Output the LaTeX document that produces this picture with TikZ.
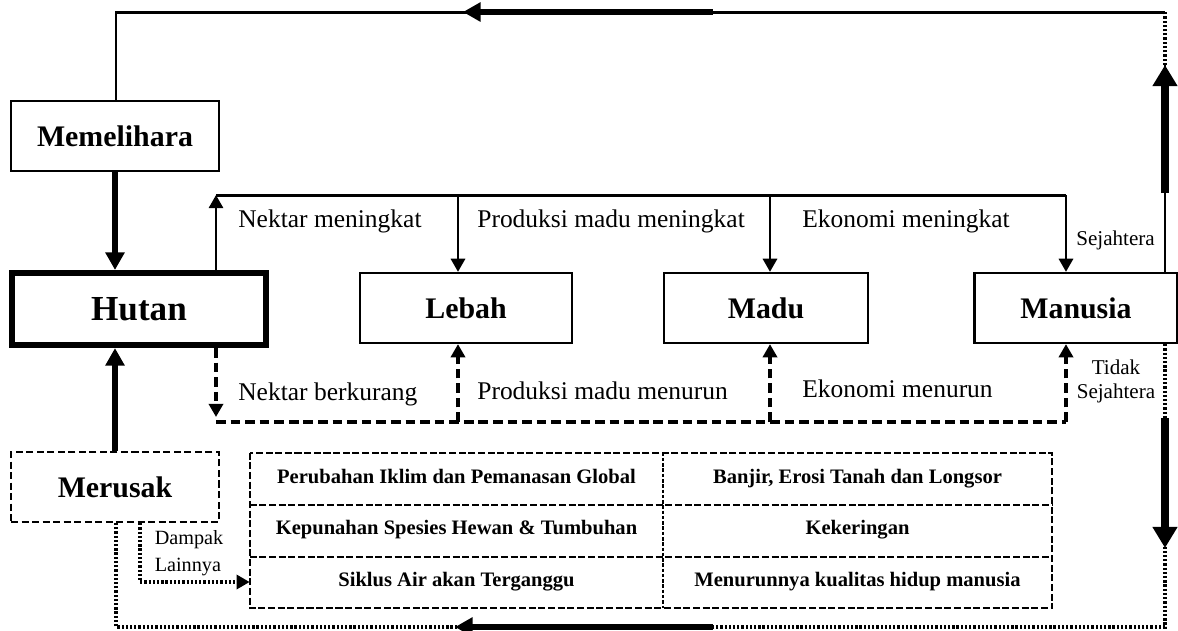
\documentclass[tikz,border=0pt]{standalone}
\usepackage{fontspec}
\setmainfont{Liberation Serif}
\usepackage{tikz}
\usetikzlibrary{arrows.meta, calc}
\tikzset{
  box/.style={draw, line width=1.3pt, minimum height=1.4cm, inner sep=0pt,
    font=\fontsize{17}{20}\selectfont\bfseries},
  cell/.style={minimum height=1.034cm, inner sep=0pt, text height=0.72em, text depth=0.22em,
    font=\fontsize{11.7}{14}\selectfont\bfseries},
  lbl/.style={anchor=west, inner sep=0pt, font=\fontsize{14.5}{17}\selectfont},
  smalllbl/.style={inner sep=0pt, align=center, font=\fontsize{12}{13.6}\selectfont},
  flow/.style={line width=1.7pt},
  dashflow/.style={line width=1.9pt, dash pattern=on 5.5pt off 2.8pt},
  dotflow/.style={line width=2.1pt, dash pattern=on 1.3pt off 1.1pt},
  tabline/.style={line width=1.1pt, dash pattern=on 4pt off 1.5pt},
  fatflow/.style={line width=3.5pt, -{Triangle[length=10pt,width=10.5pt]}},
  sideflow/.style={line width=4pt, -{Triangle[length=12pt,width=13.5pt]}},
  thintip/.style={-{Triangle[length=7.5pt,width=8pt]}},
}

\begin{document}
\begin{tikzpicture}[x=0.02cm, y=-0.02cm]
\useasboundingbox (0,0) rectangle (1178,630);
\node[box, minimum width=4.16cm] (mem) at (115,136) {Memelihara};
\node[box, line width=3.5pt, minimum width=5.08cm, minimum height=1.44cm,
  font=\fontsize{20}{24}\selectfont\bfseries] (hutan) at (139,309) {Hutan};
\node[box, minimum width=4.24cm] (lebah) at (466,308) {Lebah};
\node[box, minimum width=4.08cm] (madu) at (766,308) {Madu};
\node[box, minimum width=4.06cm] (manusia) at (1076,308) {Manusia};
\node[box, dash pattern=on 4pt off 2pt, minimum width=4.16cm] (merusak) at (115,487) {Merusak};

\foreach \ltxt/\rtxt [count=\r] in {{Perubahan Iklim dan Pemanasan Global}/{Banjir, Erosi Tanah dan Longsor},
    {Kepunahan Spesies Hewan \& Tumbuhan}/{Kekeringan},
    {Siklus Air akan Terganggu}/{Menurunnya kualitas hidup manusia}} {
    \pgfmathsetmacro{\cy}{453+(\r-1)*51.7+25.85}
    \node[cell, minimum width=8.26cm] (l\r) at (456.5,\cy) {\ltxt};
    \node[cell, minimum width=7.78cm] (r\r) at (857.5,\cy) {\rtxt};
}
\draw[tabline] (l1.north west) rectangle (r3.south east);
\draw[tabline] (l1.south west) -- (r1.south east);
\draw[tabline] (l2.south west) -- (r2.south east);
\draw[tabline, dash pattern=on 2pt off 1pt] (l1.north east) -- (l3.south east);

\coordinate (topR) at (1165,12);
\coordinate (topL) at (116,12);
\coordinate (upTip) at (1165,65);
\coordinate (upTail) at (1165,193);
\coordinate (leftTip) at (463,12);
\coordinate (leftTail) at (713,12);
\draw[flow] (manusia.north -| topR) -- (upTip);
\draw[dotflow] (upTip) -- (topR);
\draw[flow] (topR) -- (topL) -- (topL |- mem.north);
\draw[sideflow] (upTail) -- (upTip);
\draw[fatflow] (leftTail) -- (leftTip);

\draw[fatflow] (mem.south) -- (mem.south |- hutan.north);
\draw[fatflow] (merusak.north) -- (merusak.north |- hutan.south);

\coordinate (bus0) at (216,195);
\coordinate (bot0) at (216,422);
\coordinate (nekTip) at (216,417);
\draw[flow, thintip] (bus0 |- hutan.north) -- (bus0);
\draw[dashflow, thintip] (bot0 |- hutan.south) -- (nekTip);
\foreach \x/\tgt in {458/lebah, 770/madu, 1066/manusia} {
    \coordinate (t-\tgt) at (\x,195);
    \coordinate (b-\tgt) at (\x,422);
    \draw[flow, thintip] (t-\tgt) -- (t-\tgt |- \tgt.north);
    \draw[dashflow, thintip] (b-\tgt) -- (b-\tgt |- \tgt.south);
}
\draw[flow] (bus0) -- (t-manusia);
\draw[dashflow] (bot0) -- (b-manusia);

\coordinate (botR) at (1165,627);
\coordinate (botL) at (116,627);
\coordinate (dnTail) at (1165,418);
\coordinate (dnTip) at (1165,548);
\coordinate (lfTail) at (713,627);
\coordinate (lfTip) at (455,627);
\draw[dotflow] (manusia.south -| botR) -- (botR) -- (botL) -- (botL |- merusak.south);
\draw[sideflow] (dnTail) -- (dnTip);
\draw[fatflow] (lfTail) -- (lfTip);

\coordinate (dmp) at (140,582);
\draw[dotflow, thintip] (dmp |- merusak.south) -- (dmp) -- (l3.west |- dmp);

\node[lbl] (nekUp) at (238,221) {Nektar meningkat};
\node[lbl] (prodUp) at (477,221) {Produksi madu meningkat};
\node[lbl] (ekoUp) at (802,221) {Ekonomi meningkat};
\node[smalllbl, anchor=west] (sejUp) at (1076,240) {Sejahtera};
\node[lbl] (nekDn) at (238,394) {Nektar berkurang};
\node[lbl] (prodDn) at (477,391) {Produksi madu menurun};
\node[lbl] (ekoDn) at (802,389) {Ekonomi menurun};
\node[smalllbl] (sejDn) at (1116,381) {Tidak\\Sejahtera};
\node[smalllbl, align=left, font=\fontsize{11.5}{15}\selectfont] (dampak) at (189,553) {Dampak\\Lainnya};
\end{tikzpicture}
\end{document}
